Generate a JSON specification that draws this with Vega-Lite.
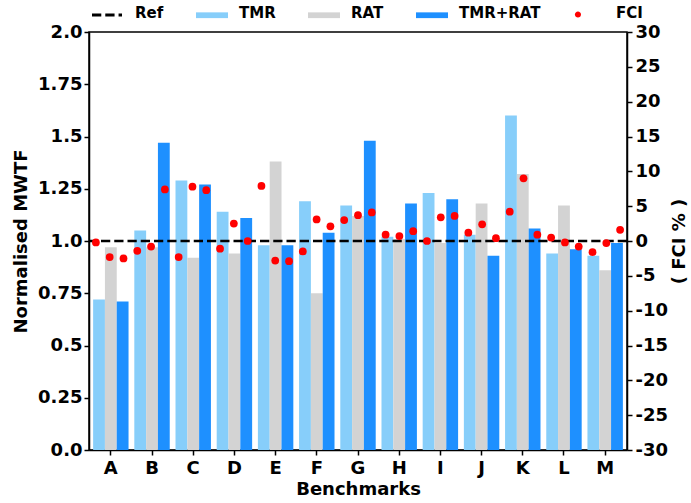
{
  "$schema": "https://vega.github.io/schema/vega-lite/v6.json",
  "width": 538,
  "height": 418,
  "autosize": {"type": "none"},
  "padding": {"left": 89, "top": 32, "right": 64, "bottom": 53},
  "background": "white",
  "datasets": {
    "bars": [
      {"bench": "A", "series": "TMR", "mwtf": 0.72}, {"bench": "A", "series": "RAT", "mwtf": 0.97}, {"bench": "A", "series": "TMR+RAT", "mwtf": 0.71},
      {"bench": "B", "series": "TMR", "mwtf": 1.05}, {"bench": "B", "series": "RAT", "mwtf": 0.97}, {"bench": "B", "series": "TMR+RAT", "mwtf": 1.47},
      {"bench": "C", "series": "TMR", "mwtf": 1.29}, {"bench": "C", "series": "RAT", "mwtf": 0.92}, {"bench": "C", "series": "TMR+RAT", "mwtf": 1.27},
      {"bench": "D", "series": "TMR", "mwtf": 1.14}, {"bench": "D", "series": "RAT", "mwtf": 0.94}, {"bench": "D", "series": "TMR+RAT", "mwtf": 1.11},
      {"bench": "E", "series": "TMR", "mwtf": 0.98}, {"bench": "E", "series": "RAT", "mwtf": 1.38}, {"bench": "E", "series": "TMR+RAT", "mwtf": 0.98},
      {"bench": "F", "series": "TMR", "mwtf": 1.19}, {"bench": "F", "series": "RAT", "mwtf": 0.75}, {"bench": "F", "series": "TMR+RAT", "mwtf": 1.04},
      {"bench": "G", "series": "TMR", "mwtf": 1.17}, {"bench": "G", "series": "RAT", "mwtf": 1.12}, {"bench": "G", "series": "TMR+RAT", "mwtf": 1.48},
      {"bench": "H", "series": "TMR", "mwtf": 1.02}, {"bench": "H", "series": "RAT", "mwtf": 1.01}, {"bench": "H", "series": "TMR+RAT", "mwtf": 1.18},
      {"bench": "I", "series": "TMR", "mwtf": 1.23}, {"bench": "I", "series": "RAT", "mwtf": 0.99}, {"bench": "I", "series": "TMR+RAT", "mwtf": 1.20},
      {"bench": "J", "series": "TMR", "mwtf": 1.03}, {"bench": "J", "series": "RAT", "mwtf": 1.18}, {"bench": "J", "series": "TMR+RAT", "mwtf": 0.93},
      {"bench": "K", "series": "TMR", "mwtf": 1.60}, {"bench": "K", "series": "RAT", "mwtf": 1.32}, {"bench": "K", "series": "TMR+RAT", "mwtf": 1.06},
      {"bench": "L", "series": "TMR", "mwtf": 0.94}, {"bench": "L", "series": "RAT", "mwtf": 1.17}, {"bench": "L", "series": "TMR+RAT", "mwtf": 0.96},
      {"bench": "M", "series": "TMR", "mwtf": 0.93}, {"bench": "M", "series": "RAT", "mwtf": 0.86}, {"bench": "M", "series": "TMR+RAT", "mwtf": 0.99}
    ],
    "fci": [
      {"bench": "A", "pos": "TMR", "fci": -0.2}, {"bench": "A", "pos": "RAT", "fci": -2.3}, {"bench": "A", "pos": "TMR+RAT", "fci": -2.5},
      {"bench": "B", "pos": "TMR", "fci": -1.4}, {"bench": "B", "pos": "RAT", "fci": -0.8}, {"bench": "B", "pos": "TMR+RAT", "fci": 7.4},
      {"bench": "C", "pos": "TMR", "fci": -2.3}, {"bench": "C", "pos": "RAT", "fci": 7.8}, {"bench": "C", "pos": "TMR+RAT", "fci": 7.3},
      {"bench": "D", "pos": "TMR", "fci": -1.1}, {"bench": "D", "pos": "RAT", "fci": 2.5}, {"bench": "D", "pos": "TMR+RAT", "fci": 0.0},
      {"bench": "E", "pos": "TMR", "fci": 7.9}, {"bench": "E", "pos": "RAT", "fci": -2.8}, {"bench": "E", "pos": "TMR+RAT", "fci": -2.9},
      {"bench": "F", "pos": "TMR", "fci": -1.5}, {"bench": "F", "pos": "RAT", "fci": 3.1}, {"bench": "F", "pos": "TMR+RAT", "fci": 2.1},
      {"bench": "G", "pos": "TMR", "fci": 3.0}, {"bench": "G", "pos": "RAT", "fci": 3.7}, {"bench": "G", "pos": "TMR+RAT", "fci": 4.1},
      {"bench": "H", "pos": "TMR", "fci": 0.9}, {"bench": "H", "pos": "RAT", "fci": 0.7}, {"bench": "H", "pos": "TMR+RAT", "fci": 1.4},
      {"bench": "I", "pos": "TMR", "fci": 0.0}, {"bench": "I", "pos": "RAT", "fci": 3.4}, {"bench": "I", "pos": "TMR+RAT", "fci": 3.6},
      {"bench": "J", "pos": "TMR", "fci": 1.2}, {"bench": "J", "pos": "RAT", "fci": 2.4}, {"bench": "J", "pos": "TMR+RAT", "fci": 0.4},
      {"bench": "K", "pos": "TMR", "fci": 4.2}, {"bench": "K", "pos": "RAT", "fci": 9.0}, {"bench": "K", "pos": "TMR+RAT", "fci": 0.9},
      {"bench": "L", "pos": "TMR", "fci": 0.5}, {"bench": "L", "pos": "RAT", "fci": -0.2}, {"bench": "L", "pos": "TMR+RAT", "fci": -0.8},
      {"bench": "M", "pos": "TMR", "fci": -1.6}, {"bench": "M", "pos": "RAT", "fci": -0.3}, {"bench": "M", "pos": "TMR+RAT", "fci": 1.6}
    ],
    "legend": [
      {"series": "Ref", "y": -1}, {"series": "TMR", "y": -1}, {"series": "RAT", "y": -1}, {"series": "TMR+RAT", "y": -1}, {"series": "FCI", "y": -1}
    ]
  },
  "layer": [
    {
      "layer": [
        {
          "data": {"name": "bars"},
          "mark": {"type": "bar"},
          "encoding": {
            "x": {
              "field": "bench", "type": "nominal",
              "scale": {"paddingInner": 0.14, "paddingOuter": 0.1},
              "axis": {"title": "Benchmarks", "labelAngle": 0, "labelPadding": 4, "titlePadding": 3}
            },
            "xOffset": {
              "field": "series", "type": "nominal",
              "scale": {"domain": ["TMR", "RAT", "TMR+RAT"], "paddingInner": 0, "paddingOuter": 0}
            },
            "y": {
              "field": "mwtf", "type": "quantitative",
              "scale": {"domain": [0, 2], "nice": false, "zero": true},
              "axis": {
                "title": "Normalised MWTF",
                "values": [0, 0.25, 0.5, 0.75, 1, 1.25, 1.5, 1.75, 2],
                "labelExpr": "(datum.value == 0.25 || datum.value == 0.75 || datum.value == 1.25 || datum.value == 1.75) ? format(datum.value, '.2f') : format(datum.value, '.1f')",
                "labelPadding": 2,
                "titleX": -68, "titleY": 209, "titleAngle": 270, "titleBaseline": "middle", "titleAlign": "center"
              }
            },
            "color": {
              "field": "series", "type": "nominal",
              "scale": {
                "domain": ["Ref", "TMR", "RAT", "TMR+RAT", "FCI"],
                "range": ["#000000", "#87CEFA", "#D3D3D3", "#1E90FF", "#FF0000"]
              },
              "legend": {
                "orient": "none", "legendX": 3, "legendY": -35, "direction": "horizontal", "columns": 5,
                "title": null, "symbolSize": 1024, "symbolStrokeWidth": 0, "symbolOpacity": 1,
                "labelFont": "DejaVu Sans", "labelFontWeight": "bold", "labelFontSize": 15, "labelColor": "black",
                "labelOffset": 11, "columnPadding": 32, "padding": 0, "labelLimit": 300
              }
            }
          }
        },
        {
          "data": {"values": [{}]},
          "mark": {"type": "rule", "color": "black", "strokeWidth": 2.5, "strokeDash": [9.25, 4]},
          "encoding": {"y": {"datum": 1}}
        },
        {
          "data": {"name": "legend"},
          "mark": {"type": "point", "filled": true, "size": 1024, "clip": true},
          "encoding": {
            "y": {"field": "y", "type": "quantitative"},
            "color": {
              "field": "series", "type": "nominal",
              "scale": {
                "domain": ["Ref", "TMR", "RAT", "TMR+RAT", "FCI"],
                "range": ["#000000", "#87CEFA", "#D3D3D3", "#1E90FF", "#FF0000"]
              },
              "legend": {
                "orient": "none", "legendX": 3, "legendY": -35, "direction": "horizontal", "columns": 5,
                "title": null, "symbolSize": 1024, "symbolStrokeWidth": 0, "symbolOpacity": 1,
                "labelFont": "DejaVu Sans", "labelFontWeight": "bold", "labelFontSize": 15, "labelColor": "black",
                "labelOffset": 11, "columnPadding": 32, "padding": 0, "labelLimit": 300
              }
            },
            "shape": {
              "field": "series", "type": "nominal",
              "scale": {
                "domain": ["Ref", "TMR", "RAT", "TMR+RAT", "FCI"],
                "range": [
                  "M-1,0.03H-0.42V0.22H-1Z M-0.17,0.03H0.41V0.22H-0.17Z M0.66,0.03H0.875V0.22H0.66Z",
                  "M-1,-0.04H1V0.32H-1Z",
                  "M-1,-0.04H1V0.32H-1Z",
                  "M-1,-0.04H1V0.32H-1Z",
                  "M-0.5,0.09A0.19,0.19 0 1,1 -0.88,0.09A0.19,0.19 0 1,1 -0.5,0.09Z"
                ]
              },
              "legend": {
                "orient": "none", "legendX": 3, "legendY": -35, "direction": "horizontal", "columns": 5,
                "title": null, "symbolSize": 1024, "symbolStrokeWidth": 0, "symbolOpacity": 1,
                "labelFont": "DejaVu Sans", "labelFontWeight": "bold", "labelFontSize": 15, "labelColor": "black",
                "labelOffset": 11, "columnPadding": 32, "padding": 0, "labelLimit": 300
              }
            }
          }
        }
      ]
    },
    {
      "data": {"name": "fci"},
      "mark": {"type": "point", "filled": true, "color": "#FF0000", "opacity": 1, "size": 60},
      "encoding": {
        "x": {
          "field": "bench", "type": "nominal",
          "scale": {"type": "band", "paddingInner": 0, "paddingOuter": 0},
          "axis": null
        },
        "xOffset": {
          "field": "pos", "type": "nominal",
          "scale": {"type": "band", "domain": ["TMR", "RAT", "TMR+RAT"], "paddingInner": 0, "paddingOuter": 0}
        },
        "y": {
          "field": "fci", "type": "quantitative",
          "scale": {"domain": [-30, 30], "nice": false, "zero": false},
          "axis": {
            "orient": "right",
            "title": "( FCI % )",
            "values": [-30, -25, -20, -15, -10, -5, 0, 5, 10, 15, 20, 25, 30],
            "labelExpr": "'' + datum.value",
            "labelPadding": 3,
            "titleX": 52, "titleY": 209, "titleAngle": 270, "titleBaseline": "middle", "titleAlign": "center"
          }
        }
      }
    }
  ],
  "resolve": {"scale": {"x": "independent", "xOffset": "independent", "y": "independent"}},
  "config": {
    "font": "DejaVu Sans",
    "view": {"stroke": "black", "strokeWidth": 1.5},
    "axis": {
      "grid": false,
      "domainColor": "black", "domainWidth": 1.5,
      "tickColor": "black", "tickWidth": 1.5, "tickSize": 5,
      "labelFont": "DejaVu Sans", "labelFontWeight": "bold", "labelFontSize": 18, "labelColor": "black",
      "titleFont": "DejaVu Sans", "titleFontWeight": "bold", "titleFontSize": 18, "titleColor": "black"
    }
  }
}
